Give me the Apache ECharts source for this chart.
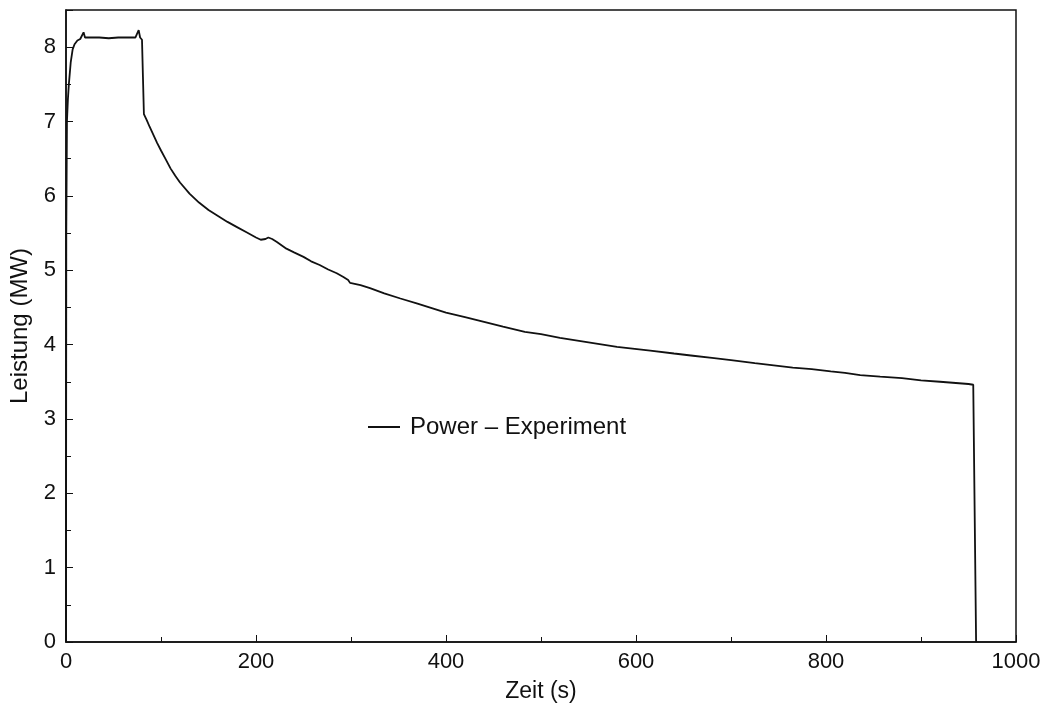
<!DOCTYPE html>
<html>
<head>
<meta charset="utf-8">
<script src="https://cdn.jsdelivr.net/npm/echarts@6/dist/echarts.min.js"></script>
<style>html,body{margin:0;padding:0;background:#fff;}#c{width:1054px;height:714px;}</style>
</head>
<body>
<div id="c"></div>
<script>
const seriesName = 'Power \u2013 Experiment';
const timeS = [0, 0.3, 1, 2, 3, 5, 7, 9, 12, 15, 17, 18.5, 20, 25, 35, 45, 55, 65, 73, 75, 76.5, 78, 80, 81, 82, 85, 88, 92, 96, 100, 105, 110, 115, 120, 130, 140, 150, 160, 170, 180, 190, 200, 205, 210, 213, 217, 222, 232, 240, 250, 258, 267, 276, 285, 292, 297, 299, 301, 310, 320, 335, 352, 370, 385, 400, 420, 439, 460, 483, 500, 520, 540, 560, 580, 594, 615, 640, 660, 680, 700, 725, 745, 765, 785, 805, 820, 836, 857, 880, 900, 920, 940, 950, 955, 956, 958];
const powerMW = [0, 5.5, 7.0, 7.3, 7.5, 7.8, 7.97, 8.04, 8.09, 8.11, 8.12, 8.2, 8.13, 8.13, 8.13, 8.12, 8.13, 8.13, 8.13, 8.14, 8.23, 8.13, 8.1, 7.6, 7.1, 7.02, 6.93, 6.82, 6.71, 6.61, 6.49, 6.37, 6.27, 6.18, 6.03, 5.91, 5.81, 5.73, 5.65, 5.58, 5.51, 5.44, 5.41, 5.42, 5.44, 5.42, 5.38, 5.29, 5.24, 5.18, 5.12, 5.07, 5.01, 4.96, 4.91, 4.87, 4.83, 4.84, 4.80, 4.76, 4.69, 4.62, 4.55, 4.49, 4.43, 4.37, 4.31, 4.24, 4.17, 4.14, 4.09, 4.05, 4.01, 3.97, 3.95, 3.92, 3.88, 3.85, 3.82, 3.79, 3.75, 3.72, 3.69, 3.67, 3.64, 3.62, 3.59, 3.57, 3.55, 3.52, 3.50, 3.48, 3.47, 3.46, 3.44, 0];
const xTicks = [0, 200, 400, 600, 800, 1000];
const yTicks = [0, 1, 2, 3, 4, 5, 6, 7, 8];

const data = timeS.map((t, i) => [t, powerMW[i]]);
const font = '"Liberation Sans", Arial, Helvetica, sans-serif';
const chart = echarts.init(document.getElementById('c'), null, {renderer: 'canvas'});
chart.setOption({
  animation: false,
  backgroundColor: '#fff',
  grid: {left: 66, right: 38, top: 10, bottom: 72, containLabel: false, outerBoundsMode: 'none',
    show: true, borderColor: '#111', borderWidth: 1.5, backgroundColor: 'transparent'},
  legend: {
    data: [seriesName], left: 363, top: 410,
    icon: 'rect', itemWidth: 32, itemHeight: 2, itemGap: 10,
    textStyle: {fontFamily: font, fontSize: 24, color: '#111', padding: [0, 0, 0, 5]}
  },
  xAxis: {
    type: 'value', min: xTicks[0], max: xTicks[xTicks.length - 1], interval: 200,
    name: 'Zeit (s)', nameLocation: 'middle', nameGap: 38,
    nameTextStyle: {fontFamily: font, fontSize: 23, color: '#111'},
    axisLine: {show: true, lineStyle: {color: '#111', width: 1.5}},
    axisTick: {show: true, inside: true, length: 7, lineStyle: {color: '#111'}},
    minorTick: {show: true, splitNumber: 2, length: 5, lineStyle: {color: '#111'}},
    splitLine: {show: false},
    axisLabel: {fontFamily: font, fontSize: 22, color: '#111', margin: 9,
      formatter: v => (xTicks.indexOf(v) >= 0 ? String(v) : '')}
  },
  yAxis: {
    type: 'value', min: 0, max: 8.5, interval: 1,
    name: 'Leistung (MW)', nameLocation: 'middle', nameGap: 33,
    nameTextStyle: {fontFamily: font, fontSize: 24, color: '#111'},
    axisLine: {show: true, lineStyle: {color: '#111', width: 1.5}},
    axisTick: {show: true, inside: true, length: 7, lineStyle: {color: '#111'}},
    minorTick: {show: true, splitNumber: 2, length: 5, lineStyle: {color: '#111'}},
    splitLine: {show: false},
    axisLabel: {fontFamily: font, fontSize: 22, color: '#111', margin: 10,
      formatter: v => (yTicks.indexOf(v) >= 0 ? String(v) : '')}
  },
  series: [{
    name: seriesName, type: 'line', data: data, showSymbol: false, symbol: 'none',
    lineStyle: {color: '#111', width: 1.8}, itemStyle: {color: '#111'}
  }]
});
</script>
</body>
</html>
